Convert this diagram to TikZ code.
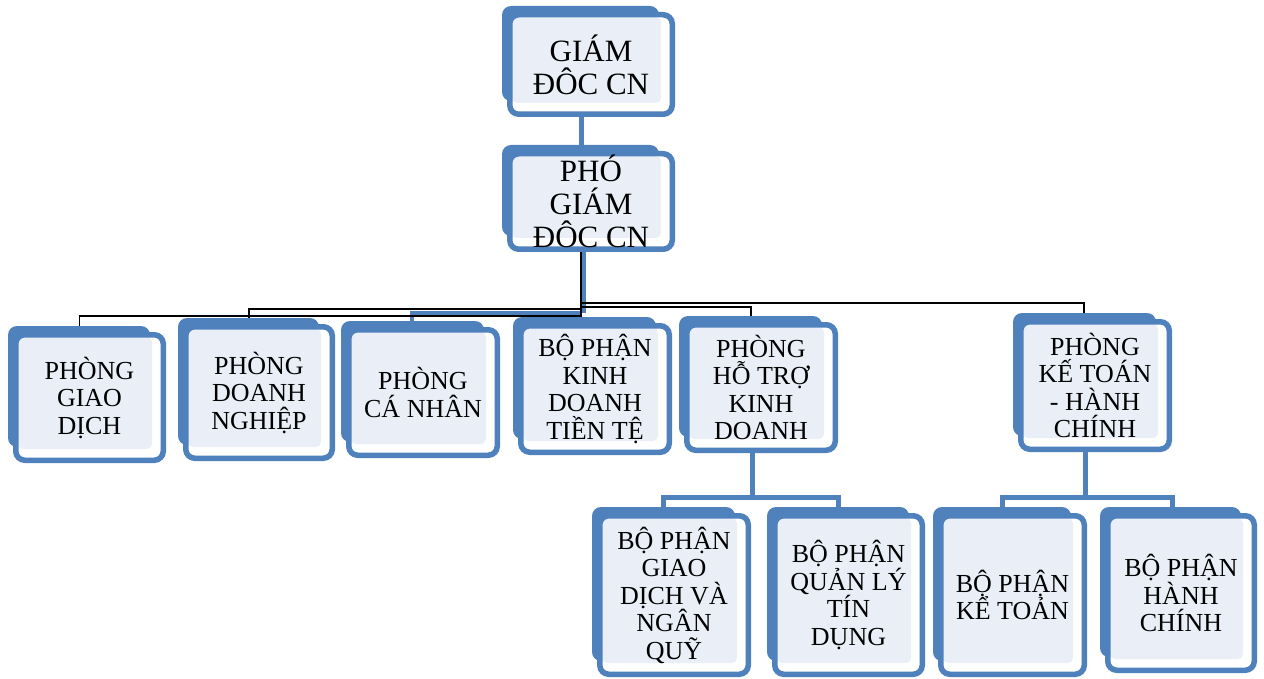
\documentclass[tikz,border=0pt]{standalone}
\usepackage{fontspec}
\setmainfont{Liberation Serif}
\usetikzlibrary{calc}
\definecolor{bblue}{RGB}{79,129,189}
\definecolor{lfill}{RGB}{234,239,247}
\pgfdeclarelayer{bottom}
\pgfdeclarelayer{background}
\pgfsetlayers{bottom,background,main}
\tikzset{
  boxtext/.style={draw=bblue, line width=5.5pt, rounded corners=9pt, align=center, inner sep=0pt, text=black},
  bigtext/.style={font=\fontsize{31}{33}\selectfont},
  smalltext/.style={font=\fontsize{26}{27.5}\selectfont},
  blk/.style={draw=black, line width=1.6pt},
  bconn/.style={draw=bblue, line width=5pt},
}
% #1 name, #2 L, #3 T, #4 R, #5 B, #6 style, #7 text
\newcommand\obox[7]{%
  \fill[bblue, rounded corners=9pt] (#2-5,#3-6) rectangle (#4-16,#5-16);
  \fill[white, rounded corners=8pt] (#2+2.75,#3+2.75) rectangle (#4-2.75,#5-2.75);
  \fill[lfill, rounded corners=5pt] (#2+5,#3+5) rectangle (#4-14,#5-14);
  \node[boxtext, #6, minimum width={#4-#2-5.5}, minimum height={#5-#3-5.5}] (#1) at ({(#2+#4)/2},{(#3+#5)/2}) {#7};
}
\begin{document}
\begin{tikzpicture}[x=1pt, y=-1pt]
\useasboundingbox (0,0) rectangle (1264,679);
\begin{pgfonlayer}{bottom}
\fill[white] (0,0) rectangle (1264,679);
\end{pgfonlayer}

\obox{gm}{507}{12}{675}{117}{bigtext}{GIÁM\\ĐÔC CN}
\obox{pho}{507}{151}{675}{252}{bigtext}{PHÓ\\GIÁM\\ĐÔC CN}

\obox{gd}{13}{332}{166}{463}{smalltext}{PHÒNG\\GIAO\\DỊCH}
\obox{dn}{183}{324}{335}{461}{smalltext}{PHÒNG\\DOANH\\NGHIỆP}
\obox{cn}{346}{327}{500}{458}{smalltext}{PHÒNG\\CÁ NHÂN}
\obox{kd}{518}{323}{672}{455}{smalltext}{BỘ PHẬN\\KINH\\DOANH\\TIỀN TỆ}
\obox{ht}{684}{322}{838}{453}{smalltext}{PHÒNG\\HỖ TRỢ\\KINH\\DOANH}
\obox{kt}{1018}{319}{1172}{452}{smalltext}{PHÒNG\\KẾ TOÁN\\- HÀNH\\CHÍNH}

\obox{gq}{597}{513}{751}{677}{smalltext}{BỘ PHẬN\\GIAO\\DỊCH VÀ\\NGÂN\\QUỸ}
\obox{ql}{772}{513}{925}{677}{smalltext}{BỘ PHẬN\\QUẢN LÝ\\TÍN\\DỤNG}
\obox{ktn}{938}{513}{1087}{677}{smalltext}{BỘ PHẬN\\KỂ TOẢN}
\obox{hc}{1105}{513}{1257}{673}{smalltext}{BỘ PHẬN\\HÀNH\\CHÍNH}

\begin{pgfonlayer}{background}
  \draw[bconn] ([xshift=-10pt]gm.south) -- ([xshift=-10pt]pho.north);
  \coordinate (p) at ([xshift=-10pt]pho.south);
  \coordinate (b1) at (p |- 0,316);
  \coordinate (b2) at (p |- 0,309);
  \coordinate (b3) at (p |- 0,313);
  \coordinate (b4) at (p |- 0,303);
  \coordinate (b5) at (p |- 0,307);
  \draw[bconn, line width=4pt] ([xshift=2.5pt]p) -- ([xshift=2.5pt]b3);
  \draw[bconn, line width=4pt] (b3) -| ([xshift=-11pt]cn.north);
  \draw[blk] (b1) -| ([xshift=-10pt]gd.north);
  \draw[blk] (b2) -| ([xshift=-10pt]dn.north);
  \draw[blk] (b4) -| ([xshift=-11pt]kt.north);
  \draw[blk] (b5) -| ([xshift=-10pt]ht.north);
  \draw[blk, line width=2.4pt] (p) -- (p |- kd.north);

  \coordinate (h) at ([xshift=-9pt]ht.south);
  \coordinate (hb) at (h |- 0,497);
  \draw[bconn] (h) -- (hb);
  \draw[bconn, shorten >=5pt] (hb) -| ([xshift=-11pt]gq.north);
  \draw[bconn, shorten >=5pt] (hb) -| ([xshift=-10pt]ql.north);

  \coordinate (k) at ([xshift=-10pt]kt.south);
  \coordinate (kb) at (k |- 0,497);
  \draw[bconn] (k) -- (kb);
  \draw[bconn, shorten >=5pt] (kb) -| ([xshift=-10pt]ktn.north);
  \draw[bconn, shorten >=5pt] (kb) -| ([xshift=-9pt]hc.north);
\end{pgfonlayer}
\end{tikzpicture}
\end{document}
